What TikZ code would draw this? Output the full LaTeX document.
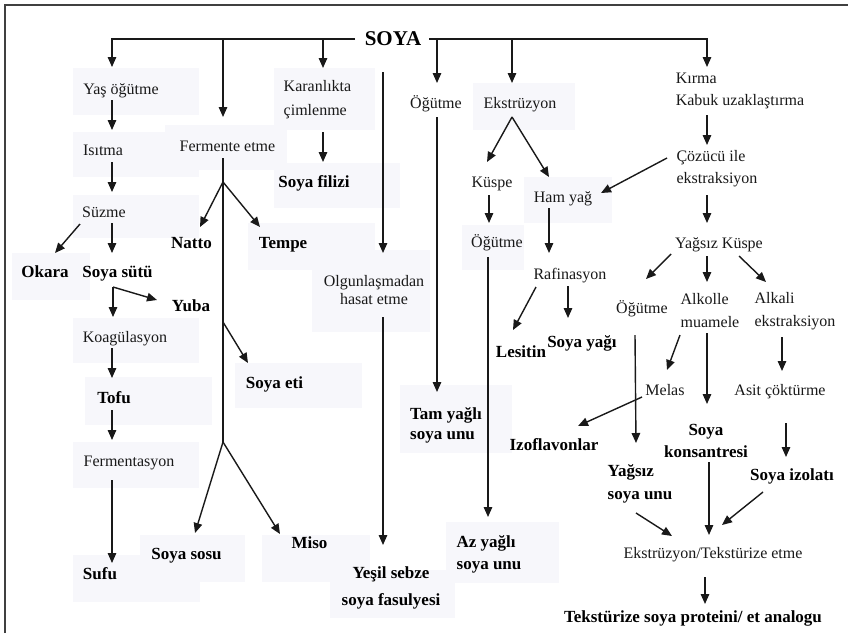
\documentclass[tikz,border=0pt]{standalone}
\usepackage{fontspec}
\setmainfont{Liberation Serif}
\usetikzlibrary{arrows.meta}
\definecolor{boxbg}{RGB}{247,247,251}
\definecolor{ink}{RGB}{25,25,25}

\begin{document}
\begin{tikzpicture}[x=1pt,y=-1pt,
  arr/.style={draw=ink, line width=1.4pt, -{Triangle[length=10pt,width=8.5pt]}},
  trunk/.style={draw=ink, line width=1.4pt},
  txt/.style={font=\fontsize{16}{22}\selectfont, text=ink, inner sep=0pt, text height=13pt, text depth=2pt},
  btxt/.style={font=\fontsize{17}{22}\selectfont\bfseries, text=black, inner sep=0pt, text height=13.5pt, text depth=2pt},
  mtxt/.style={font=\fontsize{16}{#1}\selectfont, text=ink, inner sep=0pt, align=left},
  mbtxt/.style={font=\fontsize{17}{#1}\selectfont\bfseries, text=black, inner sep=0pt, align=left},
  bgbox/.style={fill=boxbg},
]
\useasboundingbox (0,0) rectangle (848,633);
\fill[white] (0,0) rectangle (848,633);

% faint panels behind the labels
\fill[bgbox] (73,68) rectangle (199,115);
\fill[bgbox] (73,132) rectangle (199,177);
\fill[bgbox] (73,195) rectangle (199,238);
\fill[bgbox] (165,125) rectangle (287,170);
\fill[bgbox] (274,68) rectangle (375,130);
\fill[bgbox] (274,163) rectangle (400,208);
\fill[bgbox] (12,253) rectangle (90,300);
\fill[bgbox] (248,223) rectangle (375,270);
\fill[bgbox] (312,250) rectangle (430,332);
\fill[bgbox] (73,318) rectangle (199,363);
\fill[bgbox] (235,363) rectangle (362,408);
\fill[bgbox] (85,377) rectangle (212,425);
\fill[bgbox] (73,442) rectangle (199,488);
\fill[bgbox] (73,555) rectangle (200,602);
\fill[bgbox] (140,535) rectangle (245,582);
\fill[bgbox] (262,535) rectangle (370,582);
\fill[bgbox] (330,570) rectangle (455,618);
\fill[bgbox] (473,83) rectangle (575,130);
\fill[bgbox] (524,177) rectangle (612,223);
\fill[bgbox] (462,225) rectangle (524,270);
\fill[bgbox] (400,385) rectangle (512,453);
\fill[bgbox] (446,522) rectangle (559,583);

% frame
\draw[black!75, line width=2.2pt] (5,633) -- (5,5) -- (848,5);

% labels
\node[btxt, font=\fontsize{21}{24}\selectfont\bfseries, text height=16pt, text depth=2pt] (soya) at (393,38) {SOYA};
\node[txt] (yas) at (121,89) {Yaş öğütme};
\node[txt] (isitma) at (103,150) {Isıtma};
\node[txt] (suzme) at (104,212) {Süzme};
\node[btxt] (okara) at (45,272) {Okara};
\node[btxt] (sut) at (117.5,272) {Soya sütü};
\node[btxt] (yuba) at (191,306) {Yuba};
\node[txt] (koag) at (125,337) {Koagülasyon};
\node[btxt] (tofu) at (114,398) {Tofu};
\node[txt] (fermtas) at (129,461) {Fermentasyon};
\node[btxt] (sufu) at (100,574) {Sufu};
\node[txt] (fermente) at (227.5,146) {Fermente etme};
\node[btxt] (natto) at (191.5,243) {Natto};
\node[btxt] (tempe) at (283,243) {Tempe};
\node[btxt] (soyaeti) at (274.5,383) {Soya eti};
\node[btxt] (sosu) at (186.5,554) {Soya sosu};
\node[btxt] (miso) at (309.5,543) {Miso};
\node[mtxt=24] (karan) at (317.5,100) {Karanlıkta\\çimlenme};
\node[btxt] (filiz) at (314,182) {Soya filizi};
\node[mtxt=18, align=center] (olgun) at (374,290) {Olgunlaşmadan\\hasat etme};
\node[mbtxt=27, align=center] (yesil) at (391,588) {Yeşil sebze\\soya fasulyesi};
\node[txt] (ogut1) at (436,103) {Öğütme};
\node[mbtxt=20] (tamyag) at (446,425) {Tam yağlı\\soya unu};
\node[txt] (ekstr) at (520,103) {Ekstrüzyon};
\node[txt] (kuspe) at (492,182) {Küspe};
\node[txt] (ogut2) at (497,242) {Öğütme};
\node[mbtxt=22] (azyag) at (489,554) {Az yağlı\\soya unu};
\node[txt] (hamyag) at (563,197) {Ham yağ};
\node[txt] (rafin) at (570,274) {Rafinasyon};
\node[btxt] (lesitin) at (521,352) {Lesitin};
\node[btxt] (soyayagi) at (582,342) {Soya yağı};
\node[mtxt=22] (kirma) at (740,91) {Kırma\\Kabuk uzaklaştırma};
\node[mtxt=22] (cozucu) at (717,169) {Çözücü ile\\ekstraksiyon};
\node[txt] (yagsizk) at (719,243) {Yağsız Küspe};
\node[txt] (ogut3) at (642,308) {Öğütme};
\node[mtxt=23] (alkolle) at (710,311) {Alkolle\\muamele};
\node[mtxt=23] (alkali) at (795,311) {Alkali\\ekstraksiyon};
\node[txt] (melas) at (665,390) {Melas};
\node[txt] (asit) at (780,390) {Asit çöktürme};
\node[btxt] (izofl) at (554,445) {Izoflavonlar};
\node[mbtxt=22, align=center] (konsan) at (706,441) {Soya\\konsantresi};
\node[mbtxt=23] (yagsizun) at (640,484) {Yağsız\\soya unu};
\node[btxt] (izolat) at (792,475) {Soya izolatı};
\node[txt] (ekstex) at (713,553) {Ekstrüzyon/Tekstürize etme};
\node[btxt] (tsp) at (693,617) {Tekstürize soya proteini/ et analogu};

% junction points
\coordinate (sutc) at ([shift={(-4.5,15)}]sut.center);
\coordinate (fj1) at (223,182);
\coordinate (fj2) at (223,322);
\coordinate (fj3) at (223,442);
\coordinate (olgtop) at (383,72);

% branches from SOYA
\draw[arr] ([shift={(-38,1)}]soya.center) -| ([shift={(-9,-22)}]yas.center);
\draw[arr] ([shift={(-170,1)}]soya.center) -- ([shift={(-4.5,-29)}]fermente.center);
\draw[arr] ([shift={(-70,1)}]soya.center) -- ([shift={(5.5,-32)}]karan.center);
\draw[arr] ([shift={(36,1)}]soya.center) -| ([shift={(-33,-24)}]kirma.center);
\draw[arr] ([shift={(44,1)}]soya.center) -- ([shift={(1,-20)}]ogut1.center);
\draw[arr] ([shift={(119,1)}]soya.center) -- ([shift={(-8,-20)}]ekstr.center);
\draw[arr] (olgtop) -- ([shift={(9,-37)}]olgun.center);

% wet grinding line
\draw[arr] ([shift={(-9,11)}]yas.center) -- ([shift={(9,-20)}]isitma.center);
\draw[arr] ([shift={(9,12)}]isitma.center) -- ([shift={(8,-20)}]suzme.center);
\draw[arr] ([shift={(8,11)}]suzme.center) -- ([shift={(-5.5,-19)}]sut.center);
\draw[arr] ([shift={(-24,12)}]suzme.center) -- ([shift={(10,-19)}]okara.center);
\draw[arr] (sutc) -- ([shift={(-34,-6)}]yuba.center);
\draw[arr] (sutc) -- ([shift={(-12,-20)}]koag.center);
\draw[arr] ([shift={(-13,11)}]koag.center) -- ([shift={(-2,-20)}]tofu.center);
\draw[arr] ([shift={(-2,12)}]tofu.center) -- ([shift={(-17,-21)}]fermtas.center);
\draw[arr] ([shift={(-17,19)}]fermtas.center) -- ([shift={(12,-11)}]sufu.center);

% fermentation line
\draw[trunk] ([shift={(-4.5,12)}]fermente.center) -- (fj3);
\draw[arr] (fj1) -- ([shift={(8.5,-16)}]natto.center);
\draw[arr] (fj1) -- ([shift={(-23,-16)}]tempe.center);
\draw[arr] (fj2) -- ([shift={(-26.5,-20)}]soyaeti.center);
\draw[arr] (fj3) -- ([shift={(8.5,-21)}]sosu.center);
\draw[arr] (fj3) -- ([shift={(-29.5,-9)}]miso.center);

% sprouts and green beans
\draw[arr] ([shift={(5.5,32)}]karan.center) -- ([shift={(9,-20)}]filiz.center);
\draw[arr] ([shift={(9,27)}]olgun.center) -- ([shift={(-8,-43)}]yesil.center);

% dry grinding and extrusion
\draw[arr] ([shift={(1,14)}]ogut1.center) -- ([shift={(-9,-33)}]tamyag.center);
\draw[arr] ([shift={(-8,14)}]ekstr.center) -- ([shift={(-5,-20)}]kuspe.center);
\draw[arr] ([shift={(-8,14)}]ekstr.center) -- ([shift={(-14,-20)}]hamyag.center);
\draw[arr] ([shift={(-3,13)}]kuspe.center) -- ([shift={(-8,-19)}]ogut2.center);
\draw[arr] ([shift={(-9,15)}]ogut2.center) -- ([shift={(-1,-37)}]azyag.center);
\draw[arr] ([shift={(-14,11)}]hamyag.center) -- ([shift={(-21,-21)}]rafin.center);
\draw[arr] ([shift={(-34,13)}]rafin.center) -- ([shift={(-8,-22)}]lesitin.center);
\draw[arr] ([shift={(-2,12)}]rafin.center) -- ([shift={(-14,-24)}]soyayagi.center);

% crushing and solvent extraction
\draw[arr] ([shift={(-33,24)}]kirma.center) -- ([shift={(-10,-24)}]cozucu.center);
\draw[arr] ([shift={(-50,-11)}]cozucu.center) -- ([shift={(38,-4)}]hamyag.center);
\draw[arr] ([shift={(-10,26)}]cozucu.center) -- ([shift={(-12,-20)}]yagsizk.center);
\draw[arr] ([shift={(-48,11)}]yagsizk.center) -- ([shift={(4,-29)}]ogut3.center);
\draw[arr] ([shift={(-12,13)}]yagsizk.center) -- ([shift={(-3,-29)}]alkolle.center);
\draw[arr] ([shift={(20,13)}]yagsizk.center) -- ([shift={(-29,-29)}]alkali.center);
\draw[arr] ([shift={(-7,27)}]ogut3.center) -- ([shift={(-4,-41)}]yagsizun.center);
\draw[arr] ([shift={(-30,24)}]alkolle.center) -- ([shift={(2,-20)}]melas.center);
\draw[arr] ([shift={(-3,22)}]alkolle.center) -- ([shift={(1,-37)}]konsan.center);
\draw[arr] ([shift={(-13,26)}]alkali.center) -- ([shift={(2,-19)}]asit.center);
\draw[arr] ([shift={(-23,7)}]melas.center) -- ([shift={(24,-19)}]izofl.center);
\draw[arr] ([shift={(6,33)}]asit.center) -- ([shift={(-6,-18)}]izolat.center);
\draw[arr] ([shift={(-4,29)}]yagsizun.center) -- ([shift={(-41,-17)}]ekstex.center);
\draw[arr] ([shift={(3,21)}]konsan.center) -- ([shift={(-4,-18)}]ekstex.center);
\draw[arr] ([shift={(-29,17)}]izolat.center) -- ([shift={(9,-28)}]ekstex.center);
\draw[arr] ([shift={(-8,24)}]ekstex.center) -- ([shift={(12,-13)}]tsp.center);
\end{tikzpicture}
\end{document}
